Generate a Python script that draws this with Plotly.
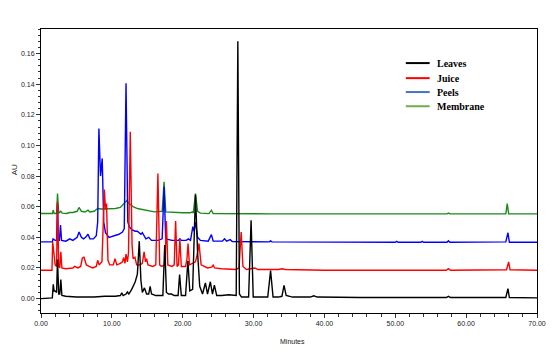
import plotly.graph_objects as go

# ---- data (minutes, AU) ----
series_names = ["Leaves", "Juice", "Peels", "Membrane"]

leaves_points = [
    (0, 0.0), (1.6, 0.0005), (1.73, 0.0093), (1.85, 0.005), (2.0, 0.005), (2.2, 0.004),
    (2.33, 0.0255), (2.5, 0.003), (2.65, 0.003), (2.8, 0.0124), (2.95, 0.002), (3.5, 0.0015),
    (5.0, 0.001), (7.5, 0.001), (9.0, 0.0015), (10.5, 0.0015), (11.2, 0.002), (11.4, 0.0037),
    (11.6, 0.002), (12.0, 0.003), (12.2, 0.0043), (12.4, 0.003), (12.8, 0.006), (13.3, 0.011),
    (13.6, 0.016), (13.87, 0.0375), (14.1, 0.012), (14.3, 0.004), (14.6, 0.007), (14.9, 0.003),
    (15.2, 0.003), (15.4, 0.008), (15.6, 0.003), (16.2, 0.002), (17.2, 0.002), (17.46, 0.035),
    (17.7, 0.004), (18.0, 0.003), (18.4, 0.003), (18.8, 0.002), (19.35, 0.002), (19.56, 0.0157),
    (19.8, 0.002), (20.4, 0.002), (20.73, 0.0246), (21.0, 0.005), (21.4, 0.006), (21.8, 0.068),
    (22.1, 0.03), (22.4, 0.008), (22.8, 0.003), (23.2, 0.0102), (23.5, 0.003), (23.9, 0.011),
    (24.2, 0.003), (24.47, 0.0087), (24.8, 0.002), (25.5, 0.002), (26.5, 0.0025), (27.3, 0.002),
    (27.55, 0.002), (27.78, 0.168), (28.0, 0.003), (28.3, 0.001), (29.3, 0.001), (29.65, 0.0512),
    (29.95, 0.001), (30.5, 0.001), (32.0, 0.001), (32.4, 0.0183), (32.75, 0.001), (33.5, 0.001),
    (34.0, 0.0015), (34.3, 0.0087), (34.6, 0.002), (35.5, 0.001), (38.0, 0.001), (38.5, 0.0018),
    (39.0, 0.001), (45.0, 0.0007), (57.2, 0.0007), (57.5, 0.0015), (57.8, 0.0007), (65.6, 0.0007),
    (65.9, 0.0065), (66.1, 0.0007), (70.0, 0.0005),
]

juice_points = [
    (0, 0.0185), (1.55, 0.0185), (1.65, 0.037), (1.8, 0.030), (2.0, 0.022), (2.2, 0.021),
    (2.33, 0.063), (2.5, 0.021), (2.65, 0.020), (2.8, 0.0305), (2.95, 0.020), (3.5, 0.0195),
    (4.5, 0.020), (4.76, 0.021), (5.2, 0.020), (5.6, 0.021), (5.84, 0.0265), (6.07, 0.027),
    (6.4, 0.022), (6.8, 0.021), (7.3, 0.020), (7.8, 0.021), (8.0, 0.025), (8.2, 0.022),
    (8.6, 0.024), (8.95, 0.0712), (9.1, 0.058), (9.25, 0.062), (9.45, 0.025), (9.7, 0.022),
    (10.2, 0.022), (10.45, 0.026), (10.7, 0.022), (11.2, 0.023), (11.5, 0.024), (11.67, 0.0268),
    (11.85, 0.023), (12.0, 0.029), (12.2, 0.024), (12.35, 0.030), (12.6, 0.1089), (12.85, 0.035),
    (13.0, 0.026), (13.26, 0.027), (13.5, 0.022), (14.0, 0.022), (14.3, 0.023), (14.55, 0.0305),
    (14.75, 0.024), (14.9, 0.026), (15.1, 0.022), (15.8, 0.021), (16.2, 0.022), (16.5, 0.0817),
    (16.75, 0.022), (17.0, 0.021), (17.5, 0.022), (17.7, 0.0507), (17.9, 0.022), (18.5, 0.021),
    (18.8, 0.022), (19.0, 0.0507), (19.2, 0.021), (19.4, 0.022), (19.6, 0.039), (19.8, 0.021),
    (20.4, 0.021), (20.6, 0.026), (20.75, 0.036), (20.95, 0.022), (21.8, 0.024), (22.1, 0.030),
    (22.3, 0.036), (22.6, 0.022), (23.5, 0.020), (24.1, 0.0205), (24.3, 0.0218), (24.5, 0.020),
    (25.5, 0.0195), (27.5, 0.019), (27.95, 0.020), (28.25, 0.0435), (28.5, 0.021), (29.0, 0.019),
    (30.0, 0.0195), (30.2, 0.020), (30.6, 0.019), (33.5, 0.019), (34.0, 0.0195), (34.5, 0.019),
    (40.0, 0.0185), (57.2, 0.0185), (57.5, 0.0195), (57.8, 0.0185), (65.7, 0.0188), (66.0, 0.0239),
    (66.2, 0.0188), (70.0, 0.0185),
]

peels_points = [
    (0, 0.037), (1.6, 0.037), (1.7, 0.039), (2.0, 0.038), (2.2, 0.038), (2.33, 0.062),
    (2.45, 0.038), (2.6, 0.038), (2.75, 0.048), (2.9, 0.038), (3.5, 0.0375), (4.06, 0.039),
    (4.5, 0.038), (5.1, 0.040), (5.37, 0.0435), (5.7, 0.040), (6.0, 0.039), (6.3, 0.040),
    (6.63, 0.042), (6.9, 0.039), (7.4, 0.039), (7.8, 0.041), (8.0, 0.050), (8.17, 0.111),
    (8.4, 0.080), (8.64, 0.0915), (8.85, 0.050), (9.1, 0.043), (9.6, 0.040), (10.3, 0.041),
    (11.0, 0.042), (11.5, 0.0435), (11.75, 0.0457), (12.0, 0.1405), (12.25, 0.050), (12.46, 0.047),
    (12.8, 0.045), (13.3, 0.044), (13.6, 0.044), (14.1, 0.042), (14.3, 0.043), (14.8, 0.039),
    (15.2, 0.040), (15.6, 0.038), (16.5, 0.038), (17.1, 0.039), (17.37, 0.073), (17.6, 0.039),
    (18.5, 0.038), (19.4, 0.038), (19.6, 0.039), (19.8, 0.038), (20.5, 0.038), (20.8, 0.039),
    (21.1, 0.038), (21.43, 0.047), (21.6, 0.044), (21.8, 0.050), (22.1, 0.040), (22.5, 0.038),
    (23.6, 0.0375), (24.05, 0.0418), (24.3, 0.0375), (25.6, 0.0375), (25.9, 0.039), (26.2, 0.0375),
    (26.7, 0.0385), (27.0, 0.0372), (32.2, 0.037), (32.4, 0.0377), (32.6, 0.037), (50.0, 0.0368),
    (50.2, 0.0374), (50.4, 0.0368), (53.6, 0.0368), (53.8, 0.0374), (54.0, 0.0368), (57.3, 0.0368),
    (57.5, 0.0378), (57.7, 0.0368), (65.6, 0.037), (65.9, 0.043), (66.1, 0.0368), (70.0, 0.0368),
]

membrane_points = [
    (0, 0.0556), (1.6, 0.0556), (1.73, 0.0577), (1.85, 0.0556), (2.2, 0.0556), (2.33, 0.0686),
    (2.5, 0.0558), (2.8, 0.057), (3.0, 0.0558), (3.6, 0.0556), (4.06, 0.0562), (4.5, 0.0562),
    (5.1, 0.057), (5.37, 0.0595), (5.7, 0.057), (6.2, 0.0565), (6.63, 0.0577), (6.9, 0.0565),
    (7.5, 0.057), (8.0, 0.0588), (8.5, 0.0585), (9.5, 0.0585), (10.5, 0.0588), (11.2, 0.0595),
    (11.5, 0.061), (11.8, 0.062), (12.1, 0.064), (12.46, 0.062), (13.0, 0.060), (13.6, 0.0588),
    (14.5, 0.058), (15.3, 0.0572), (16.0, 0.0566), (17.1, 0.057), (17.37, 0.0762), (17.6, 0.0566),
    (18.5, 0.0562), (20.0, 0.056), (21.1, 0.056), (21.33, 0.0566), (21.5, 0.056), (21.8, 0.0686),
    (22.1, 0.057), (22.5, 0.0558), (23.7, 0.0555), (24.05, 0.0577), (24.3, 0.0555), (32.3, 0.0553),
    (32.4, 0.0557), (32.6, 0.0553), (57.3, 0.0553), (57.5, 0.0558), (57.7, 0.0553), (65.6, 0.0553),
    (65.8, 0.062), (66.0, 0.0553), (70.0, 0.0553),
]

x_tick_values = [0, 10, 20, 30, 40, 50, 60, 70]
y_tick_values = [0.00, 0.02, 0.04, 0.06, 0.08, 0.10, 0.12, 0.14, 0.16]

# ---- styling ----
line_colors = ["#000000", "#ff0000", "#0000ff", "#1a8a1a"]
legend_colors = ["#000000", "#ff0000", "#4472c4", "#70ad47"]
all_points = [leaves_points, juice_points, peels_points, membrane_points]

fig = go.Figure()
# draw Membrane first so Leaves ends on top
for name, pts, col in list(zip(series_names, all_points, line_colors))[::-1]:
    xs = [p[0] for p in pts]
    ys = [p[1] for p in pts]
    fig.add_trace(go.Scatter(x=xs, y=ys, mode="lines", name=name,
                             line=dict(color=col, width=1.4), showlegend=False))

tick_font = dict(family="Liberation Sans, Arial, sans-serif", size=7, color="#222")

fig.update_xaxes(range=[0, 70], tickvals=x_tick_values,
                 ticktext=[f"{v:.2f}" for v in x_tick_values],
                 ticks="outside", ticklen=4, tickwidth=1, tickcolor="#333",
                 minor=dict(dtick=2, tick0=0, ticks="outside", ticklen=3, tickcolor="#333"),
                 showline=True, linecolor="#000", linewidth=1, mirror=True,
                 showgrid=False, zeroline=False, tickfont=tick_font)
fig.update_yaxes(range=[-0.0094, 0.176], tickvals=y_tick_values,
                 ticktext=[f"{v:.2f}" for v in y_tick_values],
                 ticks="outside", ticklen=4, tickwidth=1, tickcolor="#333",
                 minor=dict(dtick=0.004, tick0=0, ticks="outside", ticklen=2, tickcolor="#333"),
                 showline=True, linecolor="#000", linewidth=1, mirror=True,
                 showgrid=False, zeroline=False, tickfont=tick_font)

# manual legend (compact spacing as in the reference)
legend_y = [0.880, 0.827, 0.778, 0.728]
shapes = []
annotations = []
for name, col, ly in zip(series_names, legend_colors, legend_y):
    shapes.append(dict(type="line", xref="paper", yref="paper",
                       x0=0.7355, x1=0.7836, y0=ly, y1=ly,
                       line=dict(color=col, width=2)))
    annotations.append(dict(xref="paper", yref="paper", x=0.7936, y=ly,
                            text=f"<b>{name}</b>", showarrow=False,
                            xanchor="left", yanchor="middle",
                            font=dict(family="Liberation Serif, Times New Roman, serif",
                                      size=10, color="#000")))
annotations.append(dict(xref="paper", yref="paper", x=-0.054, y=0.503, text="AU",
                        textangle=-90, showarrow=False, xanchor="center", yanchor="middle",
                        font=dict(family="Liberation Sans, Arial, sans-serif", size=8, color="#222")))
annotations.append(dict(xref="paper", yref="paper", x=0.507, y=-0.10, text="Minutes",
                        showarrow=False, xanchor="center", yanchor="middle",
                        font=dict(family="Liberation Sans, Arial, sans-serif", size=7, color="#222")))

fig.update_layout(width=558, height=353,
                  margin=dict(l=41, r=18, t=29, b=40),
                  paper_bgcolor="white", plot_bgcolor="white",
                  shapes=shapes, annotations=annotations, showlegend=False)

fig.write_html("out.html")
